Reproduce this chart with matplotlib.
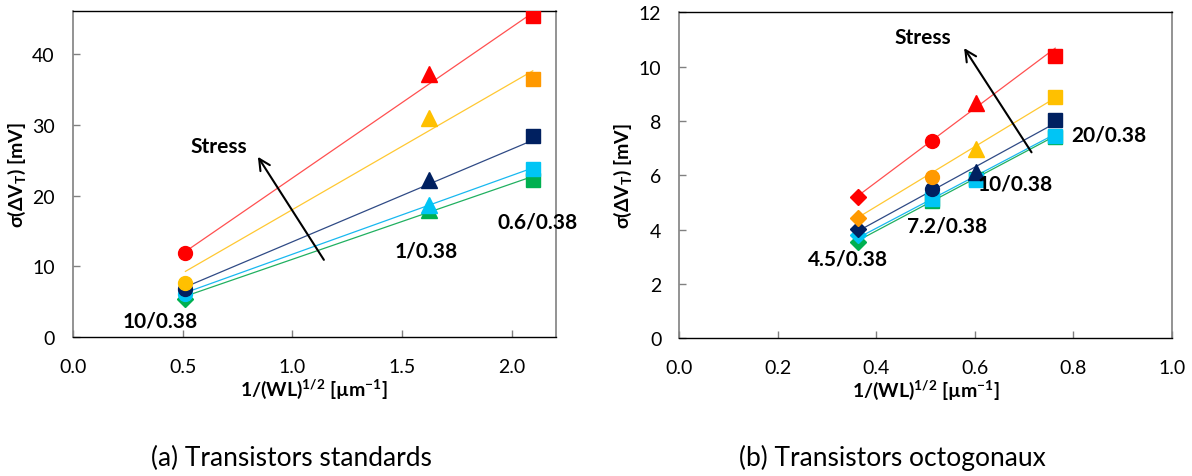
import matplotlib
matplotlib.use("Agg")
import matplotlib.pyplot as plt
import numpy as np

plt.rcParams["font.family"] = ["Lato", "DejaVu Sans"]

# couleurs des niveaux de stress (du plus fort au plus faible)
series_colors = ["#FF0000", "#FFC000", "#002060", "#00C5F5", "#00B050"]
line_colors = ["#FF5050", "#FFC832", "#2F4A85", "#18B8F0", "#20B060"]

# (a) transistors standards
x_std = [0.513, 1.622, 2.094]
std_red = [11.9, 37.2, 45.4]
std_yellow = [7.7, 30.9, 36.4]
std_navy = [6.8, 22.2, 28.4]
std_blue = [6.1, 18.6, 23.7]
std_green = [5.4, 17.9, 22.2]
std_fit_lo = [12.1, 9.3, 7.1, 6.3, 5.8]
std_fit_hi = [45.8, 37.6, 27.8, 23.9, 22.7]
std_markers = [["o", "^", "s"]] * 4 + [["D", "^", "s"]]
std_yellow_cols = ["#FFC000", "#FFC000", "#FF9900"]
std_labels = ["10/0.38", "1/0.38", "0.6/0.38"]
std_label_xy = [(0.40, 2.3), (1.61, 12.2), (2.115, 16.4)]

# (b) transistors octogonaux
x_oct = [0.363, 0.512, 0.603, 0.763]
oct_red = [5.21, 7.25, 8.66, 10.38]
oct_yellow = [4.43, 5.95, 6.97, 8.90]
oct_navy = [4.02, 5.50, 6.13, 8.03]
oct_blue = [3.80, 5.13, 5.82, 7.46]
oct_green = [3.53, 5.05, 5.85, 7.40]
oct_fit_lo = [5.25, 4.45, 3.95, 3.70, 3.60]
oct_fit_hi = [10.68, 8.85, 7.92, 7.52, 7.45]
oct_markers = [["D", "o", "^", "s"]] * 3 + [["D", "s", "s", "s"]] * 2
oct_yellow_cols = ["#FF9900", "#FF9900", "#FFC000", "#FFC000"]
oct_labels = ["4.5/0.38", "7.2/0.38", "10/0.38", "20/0.38"]
oct_label_xy = [(0.342, 2.94), (0.543, 4.15), (0.682, 5.7), (0.871, 7.52)]

msize = {"o": 10, "^": 11, "s": 10, "D": 8}


def style_axes(ax, xlim, ylim, xticks, yticks, xfmt):
    ax.set_xlim(*xlim)
    ax.set_ylim(*ylim)
    ax.set_xticks(xticks)
    ax.set_xticklabels([xfmt.format(v) for v in xticks])
    ax.set_yticks(yticks)
    ax.set_yticklabels([str(v) for v in yticks])
    ax.tick_params(axis="both", direction="in", length=5, width=1, color="#808080",
                   labelsize=14)
    ax.tick_params(axis="x", pad=15)
    ax.tick_params(axis="y", pad=13)
    for s in ["top", "bottom"]:
        ax.spines[s].set_color("black")
        ax.spines[s].set_linewidth(1.0)
    for s in ["left", "right"]:
        ax.spines[s].set_color("#808080")
        ax.spines[s].set_linewidth(1.2)
    ax.set_xlabel("1/(WL)$^{\\mathregular{1/2}}$ [µm$^{\\mathregular{-1}}$]",
                  fontsize=14, fontweight="bold", labelpad=1)
    ax.set_ylabel("σ(ΔV$_{\\mathregular{T}}$) [mV]", fontsize=14, fontweight="bold",
                  labelpad=3)


def draw_panel(ax, x, series, fit_lo, fit_hi, markers, yellow_cols):
    # ordre de dessin : vert en dessous, rouge au-dessus
    for i in reversed(range(len(series))):
        ax.plot([x[0], x[-1]], [fit_lo[i], fit_hi[i]], color=line_colors[i], lw=0.9,
                zorder=2)
        cols = yellow_cols if i == 1 else [series_colors[i]] * len(x)
        for xv, yv, m, c in zip(x, series[i], markers[i], cols):
            ax.plot(xv, yv, marker=m, ms=msize[m], color=c, mec=c, ls="none", zorder=3)


fig = plt.figure(figsize=(11.92, 4.77), dpi=100)
ax1 = fig.add_axes([0.061, 0.2908, 0.4055, 0.6834])
ax2 = fig.add_axes([0.5699, 0.2887, 0.4133, 0.6834])

draw_panel(ax1, x_std, [std_red, std_yellow, std_navy, std_blue, std_green],
           std_fit_lo, std_fit_hi, std_markers, std_yellow_cols)
style_axes(ax1, (0, 2.2), (0, 46), [0.0, 0.5, 1.0, 1.5, 2.0], [0, 10, 20, 30, 40], "{:.1f}")
for t, (tx, ty) in zip(std_labels, std_label_xy):
    ax1.text(tx, ty, t, fontsize=15, fontweight="bold", ha="center", va="center", zorder=4)
ax1.annotate("", xy=(0.836, 25.8), xytext=(1.15, 10.6),
             arrowprops=dict(arrowstyle="->", lw=1.5, color="black", mutation_scale=20))
ax1.text(0.663, 27.0, "Stress", fontsize=15, fontweight="bold", ha="center", va="center")

draw_panel(ax2, x_oct, [oct_red, oct_yellow, oct_navy, oct_blue, oct_green],
           oct_fit_lo, oct_fit_hi, oct_markers, oct_yellow_cols)
style_axes(ax2, (0, 1.0), (0, 12), [0.0, 0.2, 0.4, 0.6, 0.8, 1.0], [0, 2, 4, 6, 8, 10, 12],
           "{:.1f}")
for t, (tx, ty) in zip(oct_labels, oct_label_xy):
    ax2.text(tx, ty, t, fontsize=15, fontweight="bold", ha="center", va="center", zorder=4)
ax2.annotate("", xy=(0.575, 10.77), xytext=(0.718, 6.76),
             arrowprops=dict(arrowstyle="->", lw=1.5, color="black", mutation_scale=20))
ax2.text(0.495, 11.08, "Stress", fontsize=15, fontweight="bold", ha="center", va="center")

fig.text(291 / 1192, 1 - 458 / 477, "(a) Transistors standards", fontsize=19,
         ha="center", va="center")
fig.text(892 / 1192, 1 - 458 / 477, "(b) Transistors octogonaux", fontsize=19,
         ha="center", va="center")

fig.savefig("out.png", dpi=100)
